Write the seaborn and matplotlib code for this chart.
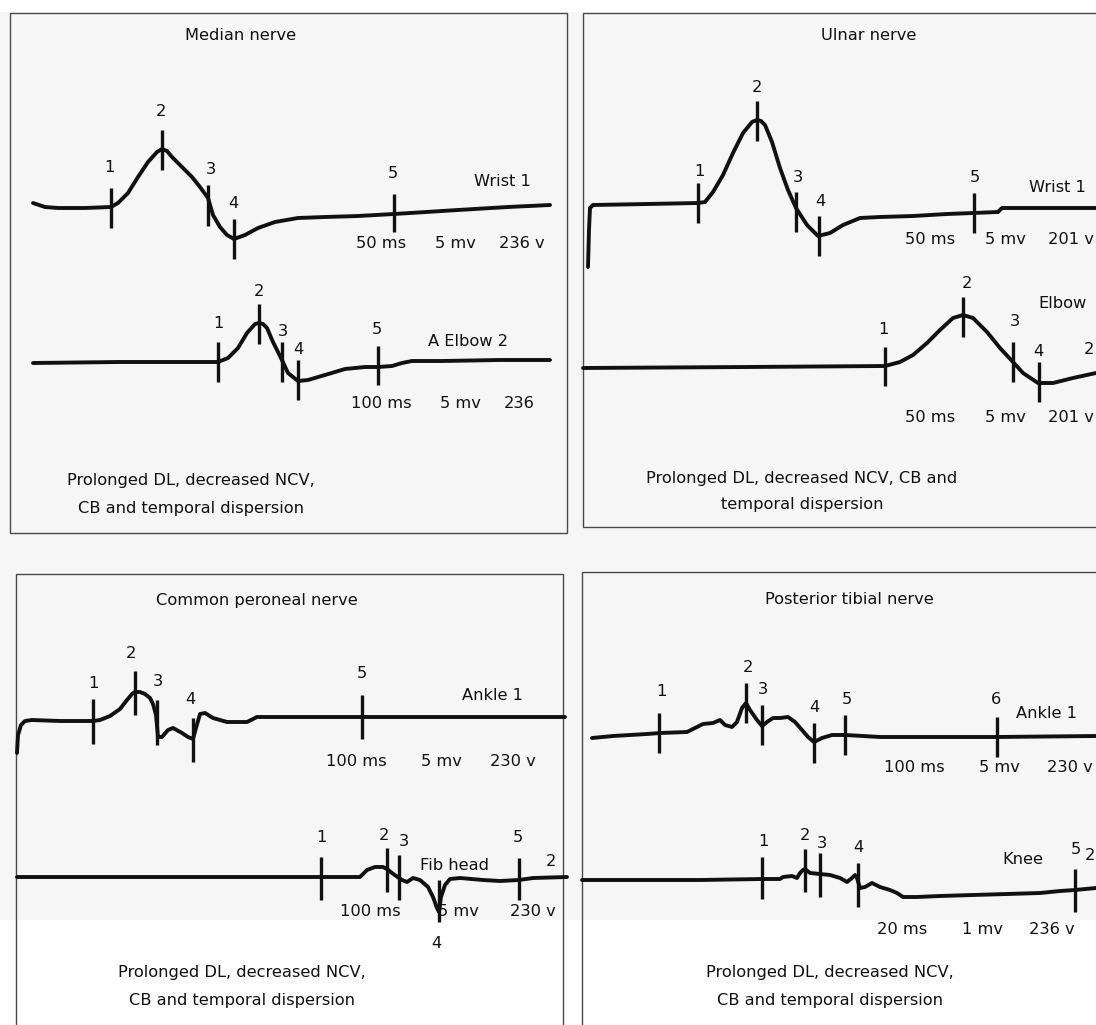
"""
Nerve conduction study sketch: four panels (median, ulnar, common peroneal,
posterior tibial), each with two CMAP traces and numbered markers.
Coordinates are read off the reference picture (pixel space, y down).
"""
import numpy as np
import pandas as pd
import matplotlib
matplotlib.use('Agg')
import matplotlib.pyplot as plt
from matplotlib.patches import Rectangle
import seaborn as sns

sns.set_style('white')
plt.rcParams['font.family'] = ['DejaVu Sans']

W, H = 1096, 1025
INK = '#111111'
FS = 11.7

# ── Median nerve ─────────────────────────────────────────────────────────────
med_wrist_x = [33, 45, 58, 85, 111, 118, 128, 138, 148, 157, 162, 167, 172, 182, 192,
               200, 208, 213, 220, 227, 234, 245, 258, 275, 298, 325, 358, 394, 458, 508, 550]
med_wrist_y = [203, 207, 208, 208, 207, 203, 193, 177, 162, 152, 149, 151, 157, 167, 177,
               187, 198, 215, 227, 235, 239, 235, 228, 222, 218, 217, 216, 214, 210, 207, 205]
med_wrist_tick_x = [111, 162, 208, 234, 394]
med_wrist_tick_top = [188, 130, 185, 219, 194]
med_wrist_tick_bot = [228, 170, 226, 259, 232]
med_wrist_lbl = ['1', '2', '3', '4', '5']
med_wrist_lbl_x = [109, 161, 211, 233, 393]
med_wrist_lbl_y = [167, 111, 169, 203, 174]

med_elbow_x = [33, 120, 212, 218, 228, 238, 247, 255, 259, 263, 267, 273, 281, 288, 298,
               308, 325, 345, 365, 378, 392, 402, 412, 442, 500, 550]
med_elbow_y = [363, 362, 362, 362, 358, 348, 333, 324, 323, 324, 328, 342, 358, 373, 381,
               380, 375, 369, 367, 367, 366, 363, 361, 361, 360, 360]
med_elbow_tick_x = [218, 259, 282, 298, 378]
med_elbow_tick_top = [342, 304, 342, 360, 346]
med_elbow_tick_bot = [382, 344, 382, 400, 385]
med_elbow_lbl = ['1', '2', '3', '4', '5']
med_elbow_lbl_x = [218, 259, 283, 298, 377]
med_elbow_lbl_y = [323, 291, 331, 349, 330]

# ── Ulnar nerve ──────────────────────────────────────────────────────────────
uln_wrist_x = [588, 589, 590, 593, 647, 698, 705, 713, 723, 733, 743, 752, 757, 761, 765,
               772, 780, 788, 796, 807, 818, 830, 843, 860, 880, 913, 947, 973, 998, 1002,
               1013, 1096]
uln_wrist_y = [267, 230, 208, 205, 204, 203, 202, 192, 175, 153, 133, 122, 120, 121, 125,
               142, 168, 190, 208, 225, 236, 233, 225, 218, 217, 216, 214, 213, 212, 208,
               208, 208]
uln_wrist_tick_x = [698, 757, 796, 819, 974]
uln_wrist_tick_top = [183, 101, 192, 216, 193]
uln_wrist_tick_bot = [223, 141, 232, 256, 233]
uln_wrist_lbl = ['1', '2', '3', '4', '5']
uln_wrist_lbl_x = [699, 757, 798, 820, 975]
uln_wrist_lbl_y = [171, 88, 178, 202, 177]

uln_elbow_x = [583, 747, 885, 900, 913, 927, 940, 953, 963, 973, 987, 1000, 1013, 1023,
               1038, 1053, 1073, 1096]
uln_elbow_y = [368, 367, 366, 362, 355, 343, 330, 318, 315, 318, 332, 348, 362, 373,
               383, 383, 378, 373]
uln_elbow_tick_x = [885, 963, 1013, 1039]
uln_elbow_tick_top = [347, 297, 342, 362]
uln_elbow_tick_bot = [386, 337, 382, 402]
uln_elbow_lbl = ['1', '2', '3', '4', '2']
uln_elbow_lbl_x = [883, 967, 1015, 1038, 1089]
uln_elbow_lbl_y = [330, 283, 322, 351, 349]

# ── Common peroneal nerve ────────────────────────────────────────────────────
per_ankle_x = [17, 18, 21, 25, 32, 60, 93, 100, 110, 120, 127, 132, 135, 140, 145, 150,
               153, 156, 158, 162, 168, 173, 182, 188, 193, 196, 200, 205, 213, 227, 247,
               257, 267, 362, 565]
per_ankle_y = [753, 735, 725, 721, 720, 721, 721, 720, 716, 709, 700, 694, 692, 692, 694,
               698, 704, 715, 737, 737, 730, 728, 733, 737, 739, 728, 714, 713, 718, 722,
               722, 717, 717, 717, 717]
per_ankle_tick_x = [93, 135, 157, 193, 362]
per_ankle_tick_top = [699, 671, 700, 718, 695]
per_ankle_tick_bot = [744, 715, 745, 762, 739]
per_ankle_lbl = ['1', '2', '3', '4', '5']
per_ankle_lbl_x = [93, 131, 158, 190, 362]
per_ankle_lbl_y = [683, 653, 681, 700, 673]

per_fib_x = [17, 200, 321, 360, 367, 375, 383, 387, 392, 399, 402, 407, 413, 420, 428,
             433, 437, 439, 441, 445, 450, 460, 483, 500, 519, 533, 567]
per_fib_y = [877, 877, 877, 877, 870, 867, 867, 869, 873, 878, 880, 882, 878, 880, 887,
             897, 908, 912, 897, 885, 879, 878, 880, 881, 880, 878, 877]
per_fib_tick_x = [321, 387, 399, 439, 519]
per_fib_tick_top = [857, 848, 855, 880, 858]
per_fib_tick_bot = [900, 892, 900, 922, 900]
per_fib_lbl = ['1', '2', '3', '4', '5', '2']
per_fib_lbl_x = [321, 384, 404, 436, 518, 551]
per_fib_lbl_y = [838, 835, 841, 944, 838, 861]

# ── Posterior tibial nerve ───────────────────────────────────────────────────
tib_ankle_x = [592, 613, 647, 660, 687, 697, 703, 713, 720, 725, 732, 737, 742, 746, 750,
               757, 762, 767, 773, 780, 788, 795, 802, 808, 814, 822, 832, 845, 863, 880,
               997, 1096]
tib_ankle_y = [738, 736, 734, 733, 732, 727, 724, 723, 720, 725, 727, 722, 708, 703, 710,
               720, 726, 722, 718, 718, 717, 722, 730, 737, 742, 738, 735, 735, 736, 737,
               737, 736]
tib_ankle_tick_x = [659, 746, 762, 814, 845, 997]
tib_ankle_tick_top = [713, 683, 705, 723, 715, 717]
tib_ankle_tick_bot = [753, 723, 745, 763, 755, 757]
tib_ankle_lbl = ['1', '2', '3', '4', '5', '6']
tib_ankle_lbl_x = [661, 748, 763, 814, 847, 996]
tib_ankle_lbl_y = [692, 668, 690, 708, 700, 700]

tib_knee_x = [582, 700, 762, 780, 783, 792, 797, 800, 803, 805, 810, 820, 830, 840, 847,
              852, 855, 857, 860, 865, 872, 880, 890, 897, 903, 917, 940, 973, 1007, 1040,
              1060, 1075, 1096]
tib_knee_y = [880, 880, 879, 879, 877, 876, 878, 873, 870, 869, 873, 874, 875, 878, 882,
              878, 875, 878, 888, 887, 883, 887, 890, 893, 897, 897, 896, 895, 894, 893,
              891, 890, 888]
tib_knee_tick_x = [762, 805, 820, 858, 1075]
tib_knee_tick_top = [857, 849, 853, 863, 869]
tib_knee_tick_bot = [899, 892, 897, 907, 912]
tib_knee_lbl = ['1', '2', '3', '4', '5', '2']
tib_knee_lbl_x = [763, 805, 822, 858, 1076, 1090]
tib_knee_lbl_y = [842, 835, 843, 847, 849, 856]

# ── free text (site names, settings, titles, notes) ─────────────────────────
notes = [
    ('Median nerve', 241, 36), ('Ulnar nerve', 869, 36),
    ('Common peroneal nerve', 257, 600), ('Posterior tibial nerve', 849, 600),
    ('Wrist 1', 502, 181), ('50 ms', 381, 243), ('5 mv', 455, 243), ('236 v', 522, 243),
    ('A Elbow 2', 468, 342), ('100 ms', 381, 403), ('5 mv', 460, 403), ('236', 519, 403),
    ('Wrist 1', 1057, 187), ('50 ms', 930, 240), ('5 mv', 1005, 240), ('201 v', 1071, 240),
    ('Elbow', 1063, 304), ('50 ms', 930, 417), ('5 mv', 1005, 417), ('201 v', 1071, 417),
    ('Ankle 1', 493, 695), ('100 ms', 356, 761), ('5 mv', 441, 761), ('230 v', 513, 761),
    ('Fib head', 455, 865), ('100 ms', 370, 912), ('5 mv', 458, 912), ('230 v', 533, 912),
    ('Ankle 1', 1047, 714), ('100 ms', 914, 768), ('5 mv', 999, 768), ('230 v', 1070, 768),
    ('Knee', 1023, 860), ('20 ms', 902, 930), ('1 mv', 983, 930), ('236 v', 1052, 930),
    ('Prolonged DL, decreased NCV,', 191, 481), ('CB and temporal dispersion', 191, 508),
    ('Prolonged DL, decreased NCV, CB and', 802, 478), ('temporal dispersion', 802, 505),
    ('Prolonged DL, decreased NCV,', 242, 973), ('CB and temporal dispersion', 242, 1001),
    ('Prolonged DL, decreased NCV,', 830, 973), ('CB and temporal dispersion', 830, 1001),
]

traces = [
    (med_wrist_x, med_wrist_y, med_wrist_tick_x, med_wrist_tick_top, med_wrist_tick_bot,
     med_wrist_lbl, med_wrist_lbl_x, med_wrist_lbl_y),
    (med_elbow_x, med_elbow_y, med_elbow_tick_x, med_elbow_tick_top, med_elbow_tick_bot,
     med_elbow_lbl, med_elbow_lbl_x, med_elbow_lbl_y),
    (uln_wrist_x, uln_wrist_y, uln_wrist_tick_x, uln_wrist_tick_top, uln_wrist_tick_bot,
     uln_wrist_lbl, uln_wrist_lbl_x, uln_wrist_lbl_y),
    (uln_elbow_x, uln_elbow_y, uln_elbow_tick_x, uln_elbow_tick_top, uln_elbow_tick_bot,
     uln_elbow_lbl, uln_elbow_lbl_x, uln_elbow_lbl_y),
    (per_ankle_x, per_ankle_y, per_ankle_tick_x, per_ankle_tick_top, per_ankle_tick_bot,
     per_ankle_lbl, per_ankle_lbl_x, per_ankle_lbl_y),
    (per_fib_x, per_fib_y, per_fib_tick_x, per_fib_tick_top, per_fib_tick_bot,
     per_fib_lbl, per_fib_lbl_x, per_fib_lbl_y),
    (tib_ankle_x, tib_ankle_y, tib_ankle_tick_x, tib_ankle_tick_top, tib_ankle_tick_bot,
     tib_ankle_lbl, tib_ankle_lbl_x, tib_ankle_lbl_y),
    (tib_knee_x, tib_knee_y, tib_knee_tick_x, tib_knee_tick_top, tib_knee_tick_bot,
     tib_knee_lbl, tib_knee_lbl_x, tib_knee_lbl_y),
]

# panel frames: left, top, right, bottom (right/bottom may run off the page)
panels = [(10, 13, 567, 533), (583, 13, 1110, 527), (16, 574, 563, 1040), (582, 572, 1110, 1040)]

# ── draw ─────────────────────────────────────────────────────────────────────
fig = plt.figure(figsize=(W / 100, H / 100), dpi=100)
fig.patch.set_facecolor('white')
ax = fig.add_axes([0, 0, 1, 1])
ax.set_xlim(0, W)
ax.set_ylim(H, 0)
ax.axis('off')

# scanned-paper grey, white strip on top and below the lower traces
ax.add_patch(Rectangle((0, 12), W, 908, facecolor='#f6f6f6', edgecolor='none', zorder=0))

for l, t, r, b in panels:
    ax.add_patch(Rectangle((l, t), r - l, b - t, facecolor='none', edgecolor='#4a4a4a',
                           lw=1.0, zorder=1))

for tx, ty, kx, ktop, kbot, lbl, lx, ly in traces:
    df = pd.DataFrame({'x': tx, 'y': ty})
    sns.lineplot(data=df, x='x', y='y', sort=False, estimator=None, color=INK,
                 lw=2.8, ax=ax, zorder=3, solid_capstyle='round', solid_joinstyle='round')
    ax.vlines(kx, ktop, kbot, color=INK, lw=2.4, zorder=4)
    for s, x, y in zip(lbl, lx, ly):
        ax.text(x, y, s, ha='center', va='center', fontsize=FS, color=INK, zorder=5)

for s, x, y in notes:
    ax.text(x, y, s, ha='center', va='center', fontsize=FS, color=INK, zorder=5)

ax.set_xlim(0, W)
ax.set_ylim(H, 0)
ax.set_xlabel('')
ax.set_ylabel('')
fig.savefig('out.png', dpi=100, facecolor='white')
